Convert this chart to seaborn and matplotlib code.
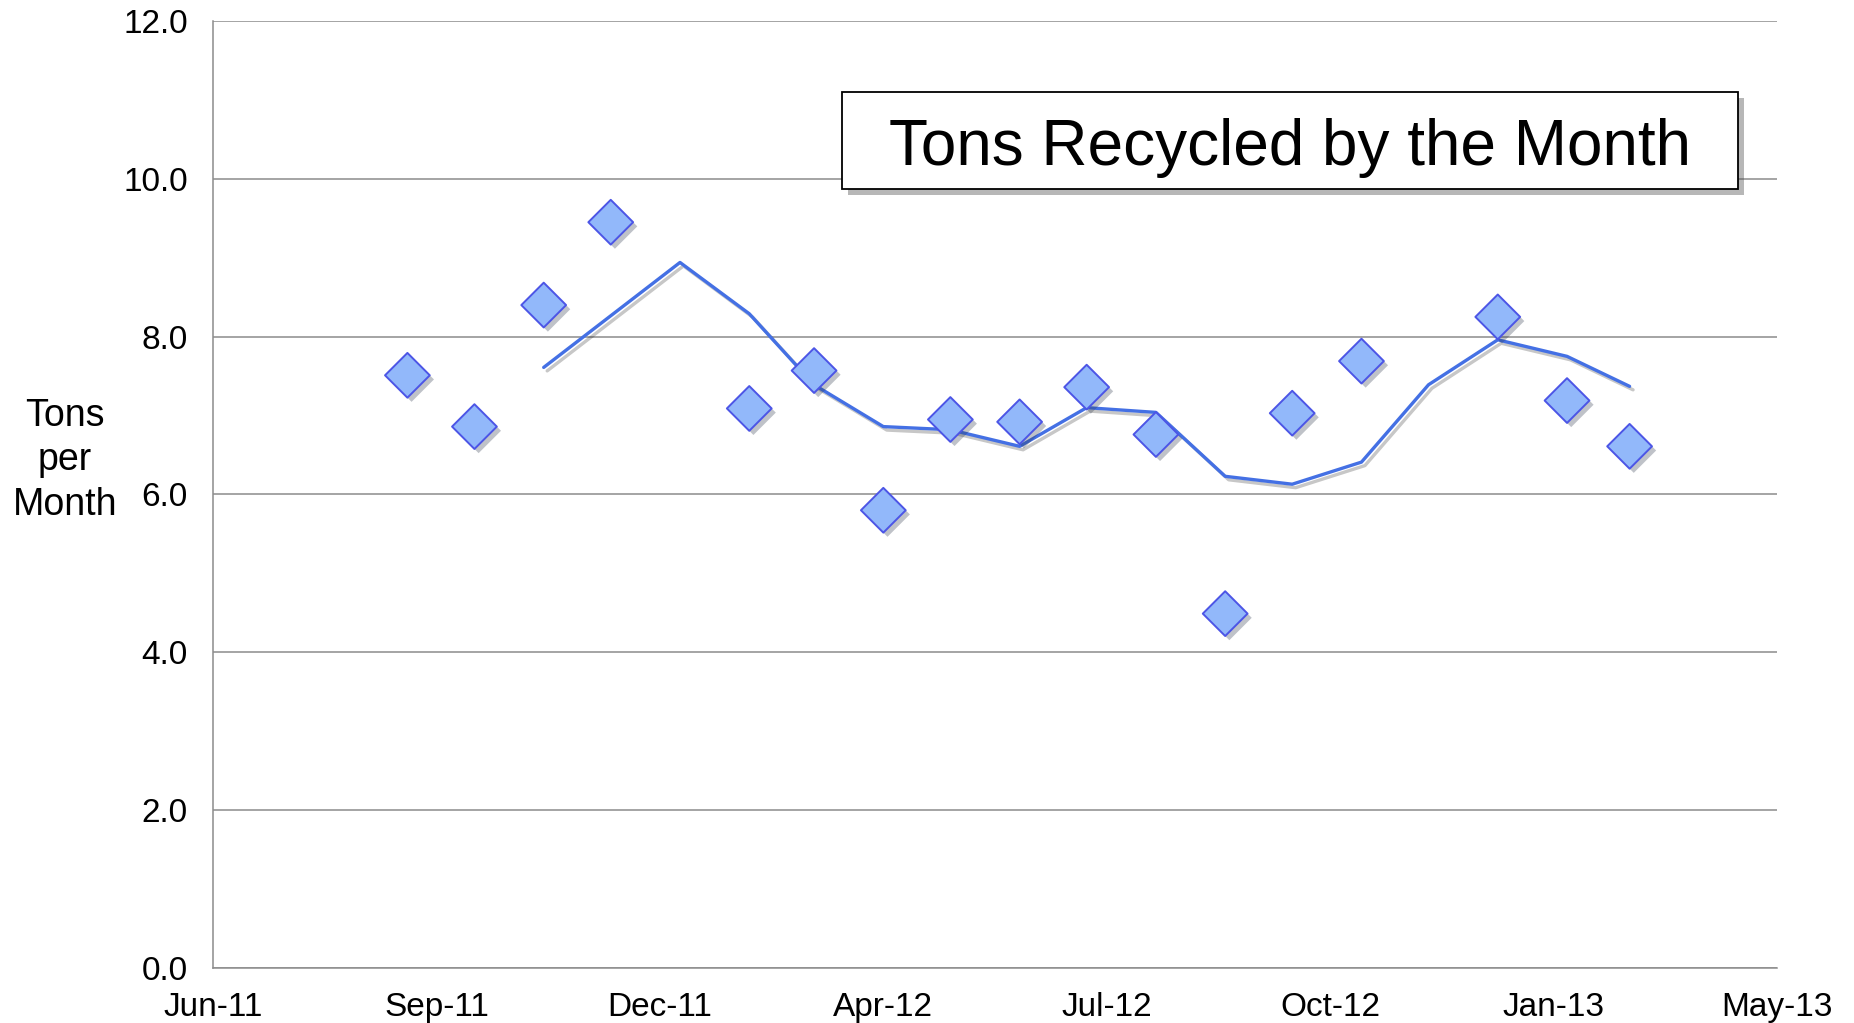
import pandas as pd
import numpy as np
import matplotlib
matplotlib.use('Agg')
import matplotlib.pyplot as plt
import matplotlib.dates as mdates
import matplotlib.patheffects as pe
from matplotlib.patches import Rectangle
import seaborn as sns

# monthly tonnage (points) and the 3-month moving average line
point_dates = ['2011-09-01', '2011-10-01', '2011-11-01', '2011-12-01',
               '2012-02-01', '2012-03-01', '2012-04-01', '2012-05-01',
               '2012-06-01', '2012-07-01', '2012-08-01', '2012-09-01',
               '2012-10-01', '2012-11-01', '2013-01-01', '2013-02-01',
               '2013-03-01']
tons = [7.51, 6.86, 8.40, 9.45,
        7.09, 7.57, 5.80, 6.95,
        6.92, 7.36, 6.76, 4.49,
        7.03, 7.69, 8.25, 7.19,
        6.61]

avg_dates = ['2011-11-01', '2012-01-01', '2012-02-01', '2012-03-01',
             '2012-04-01', '2012-05-01', '2012-06-01', '2012-07-01',
             '2012-08-01', '2012-09-01', '2012-10-01', '2012-11-01',
             '2012-12-01', '2013-01-01', '2013-02-01', '2013-03-01']
avg_tons = [7.61, 8.94, 8.29, 7.39,
            6.86, 6.82, 6.61, 7.10,
            7.04, 6.23, 6.13, 6.41,
            7.39, 7.96, 7.75, 7.37]

x_start, x_end = '2011-06-06', '2013-05-06'
y_ticks = [0, 2, 4, 6, 8, 10, 12]

df_pts = pd.DataFrame({'Date': pd.to_datetime(point_dates), 'Tons': tons})
df_avg = pd.DataFrame({'Date': pd.to_datetime(avg_dates), 'Tons': avg_tons})

sns.set_style('white')
plt.rcParams['font.family'] = ['Liberation Sans', 'DejaVu Sans']
plt.rcParams['text.color'] = 'black'

grey = '#8c8c8c'
fig = plt.figure(figsize=(18.54, 10.23), dpi=100)
ax = fig.add_axes([0.1149, 0.0538, 0.9585 - 0.1149, 0.9795 - 0.0538])

shadow = [pe.SimpleLineShadow(offset=(2.5, -2.5), shadow_color='#000000', alpha=0.22), pe.Normal()]

sns.lineplot(data=df_avg, x='Date', y='Tons', color='#4470e4', linewidth=2.4,
             ax=ax, zorder=3)
ax.lines[-1].set_path_effects(shadow)

sns.scatterplot(data=df_pts, x='Date', y='Tons', marker='D', s=520,
                color='#92b8fa', edgecolor='#4c55e6', linewidth=1.4,
                ax=ax, zorder=4)
ax.collections[-1].set_path_effects([pe.SimplePatchShadow(offset=(3, -3), alpha=0.3), pe.Normal()])

# axes
x0 = pd.Timestamp(x_start)
ax.set_xlim(x0, pd.Timestamp(x_end))
ax.set_xticks([x0 + pd.Timedelta(days=100 * k) for k in range(8)])
ax.xaxis.set_major_formatter(mdates.DateFormatter('%b-%y'))
ax.set_ylim(0, 12)
ax.set_yticks(y_ticks)
ax.set_yticklabels([f'{v:.1f}' for v in y_ticks])
ax.set_xlabel('')
ax.set_ylabel('')

ax.grid(axis='y', color=grey, linewidth=1.1)
ax.grid(axis='x', visible=False)
for side in ['top', 'right']:
    ax.spines[side].set_visible(False)
for side in ['left', 'bottom']:
    ax.spines[side].set_color(grey)
    ax.spines[side].set_linewidth(1.1)
ax.tick_params(axis='both', direction='out', length=7.2, width=1.1, color=grey,
               labelsize=24, labelcolor='black')
ax.tick_params(axis='y', pad=11)
ax.tick_params(axis='x', pad=10)

fig.text(0.035, 0.550, 'Tons\nper\nMonth', ha='center', va='center',
         multialignment='center', fontsize=27, linespacing=1.3, color='black')

# title box
bx0, bx1, by0, by1 = 842 / 1854, 1738 / 1854, 1 - 189 / 1023, 1 - 92 / 1023
box = Rectangle((bx0, by0), bx1 - bx0, by1 - by0, transform=fig.transFigure,
                facecolor='white', edgecolor='black', linewidth=1.3, zorder=10,
                path_effects=[pe.SimplePatchShadow(offset=(4, -4), alpha=0.4), pe.Normal()])
fig.patches.append(box)
fig.text((bx0 + bx1) / 2, 1 - 165 / 1023, 'Tons Recycled by the Month',
         ha='center', va='baseline', fontsize=46, zorder=11, color='black')

fig.savefig('out.png', dpi=100)
